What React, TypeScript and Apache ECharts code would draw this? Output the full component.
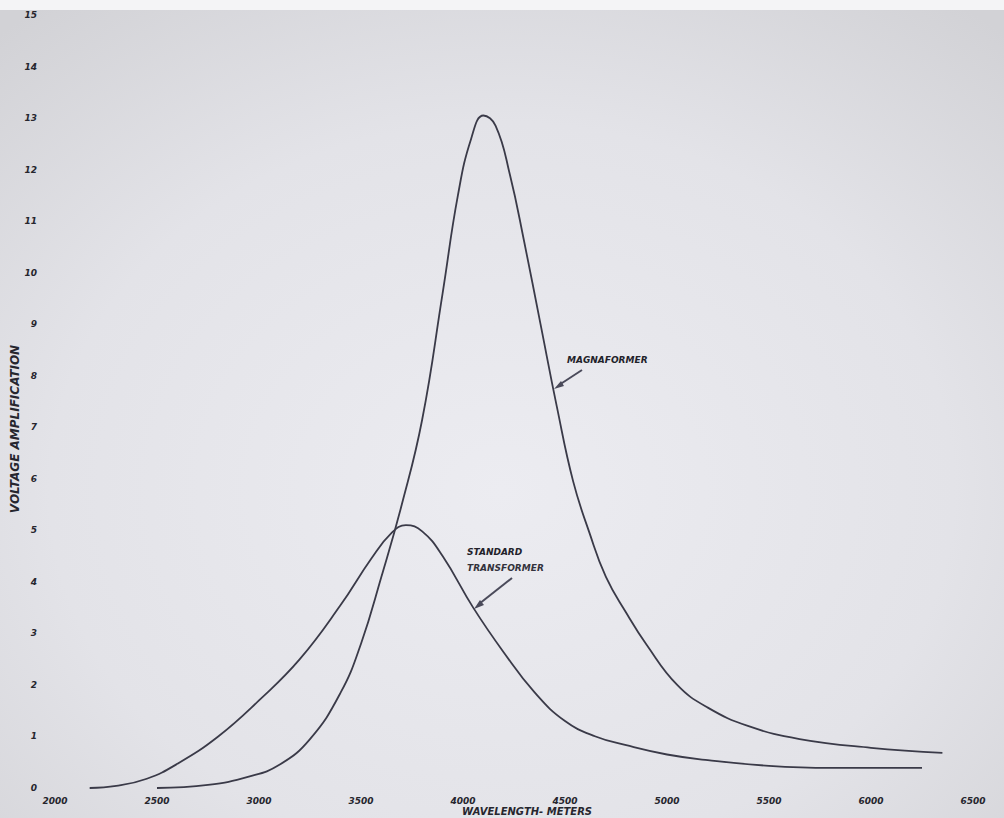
import React, { useEffect, useRef } from "react";
import * as echarts from "echarts";

const xTicks = [2000, 2500, 3000, 3500, 4000, 4500, 5000, 5500, 6000, 6500];
const yTicks = [0, 1, 2, 3, 4, 5, 6, 7, 8, 9, 10, 11, 12, 13, 14, 15];

const magnaWave = [2500, 2750, 2950, 3100, 3250, 3400, 3500, 3600, 3700, 3800, 3900, 3975, 4040, 4100, 4160, 4230, 4300, 4380, 4460, 4540, 4620, 4700, 4800, 4900, 5050, 5200, 5400, 5650, 6000, 6350];
const magnaVal = [0, 0.06, 0.22, 0.45, 0.95, 1.85, 2.8, 4.1, 5.5, 7.15, 9.6, 11.5, 12.6, 13.05, 12.85, 11.9, 10.6, 9.0, 7.4, 5.95, 4.95, 4.1, 3.4, 2.78, 2.0, 1.56, 1.2, 0.95, 0.78, 0.68];

const standardWave = [2170, 2300, 2450, 2600, 2800, 3000, 3200, 3400, 3550, 3650, 3720, 3800, 3900, 4050, 4200, 4350, 4500, 4650, 4800, 5000, 5200, 5500, 5800, 6250];
const standardVal = [0, 0.04, 0.18, 0.47, 1.0, 1.7, 2.5, 3.55, 4.45, 4.95, 5.1, 4.98, 4.5, 3.5, 2.63, 1.86, 1.3, 1.0, 0.83, 0.65, 0.54, 0.43, 0.39, 0.39];

const font = "italic bold 9px 'DejaVu Sans'";
const labelFont = {
  fontFamily: "DejaVu Sans",
  fontStyle: "italic" as const,
  fontWeight: "bold" as const,
  fontSize: 9,
  color: "#26262e",
};

export default function App() {
  const ref = useRef<HTMLDivElement>(null);
  useEffect(() => {
    if (!ref.current) return;
    const chart = echarts.init(ref.current, undefined, { renderer: "svg" });
    const ink = "#3a3a48";
    chart.setOption({
      animation: false,
      backgroundColor: {
        type: "radial",
        x: 0.5,
        y: 0.6,
        r: 0.75,
        colorStops: [
          { offset: 0, color: "#ececf1" },
          { offset: 0.6, color: "#e3e3e8" },
          { offset: 1, color: "#d2d2d6" },
        ],
      },
      grid: { left: 55, right: 31, top: 15, bottom: 30 },
      xAxis: {
        type: "value",
        min: xTicks[0],
        max: xTicks[xTicks.length - 1],
        interval: 500,
        axisLine: { show: false },
        axisTick: { show: false },
        splitLine: { show: false },
        axisLabel: { ...labelFont, margin: 8, formatter: (v: number) => String(v) },
      },
      yAxis: {
        type: "value",
        min: yTicks[0],
        max: yTicks[yTicks.length - 1],
        interval: 1,
        axisLine: { show: false },
        axisTick: { show: false },
        splitLine: { show: false },
        axisLabel: { ...labelFont, margin: 18, formatter: (v: number) => String(v) },
      },
      series: [
        {
          name: "Magnaformer",
          type: "line",
          smooth: 0.45,
          showSymbol: false,
          lineStyle: { color: ink, width: 1.8 },
          data: magnaWave.map((w, i) => [w, magnaVal[i]]),
        },
        {
          name: "Standard Transformer",
          type: "line",
          smooth: 0.45,
          showSymbol: false,
          lineStyle: { color: ink, width: 1.8 },
          data: standardWave.map((w, i) => [w, standardVal[i]]),
        },
      ],
      graphic: [
        { type: "rect", left: 0, top: 0, shape: { width: 1004, height: 10 }, style: { fill: "#f4f4f6" } },
        {
          type: "text",
          x: 15,
          y: 429,
          rotation: Math.PI / 2,
          style: { text: "VOLTAGE AMPLIFICATION", font: "italic bold 12px 'DejaVu Sans'", fill: "#26262e", align: "center", verticalAlign: "middle" },
        },
        {
          type: "text",
          x: 527,
          y: 811,
          style: { text: "WAVELENGTH- METERS", font: "italic bold 10px 'DejaVu Sans'", fill: "#26262e", align: "center", verticalAlign: "middle" },
        },
        { type: "text", x: 567, y: 355, style: { text: "MAGNAFORMER", font, fill: "#22222a" } },
        { type: "line", shape: { x1: 582, y1: 370, x2: 559, y2: 385 }, style: { stroke: "#4a4a5a", lineWidth: 2 } },
        { type: "polygon", shape: { points: [[554, 389], [561, 381], [564, 386]] }, style: { fill: "#4a4a5a" } },
        { type: "text", x: 467, y: 547, style: { text: "STANDARD", font, fill: "#22222a" } },
        { type: "text", x: 467, y: 563, style: { text: "TRANSFORMER", font, fill: "#33333d" } },
        { type: "line", shape: { x1: 512, y1: 578, x2: 479, y2: 604 }, style: { stroke: "#4a4a5a", lineWidth: 2 } },
        { type: "polygon", shape: { points: [[474, 609], [480, 600], [484, 605]] }, style: { fill: "#4a4a5a" } },
      ],
    });
    return () => chart.dispose();
  }, []);
  return <div ref={ref} style={{ position: "absolute", left: 0, top: 0, width: 1004, height: 818 }} />;
}
